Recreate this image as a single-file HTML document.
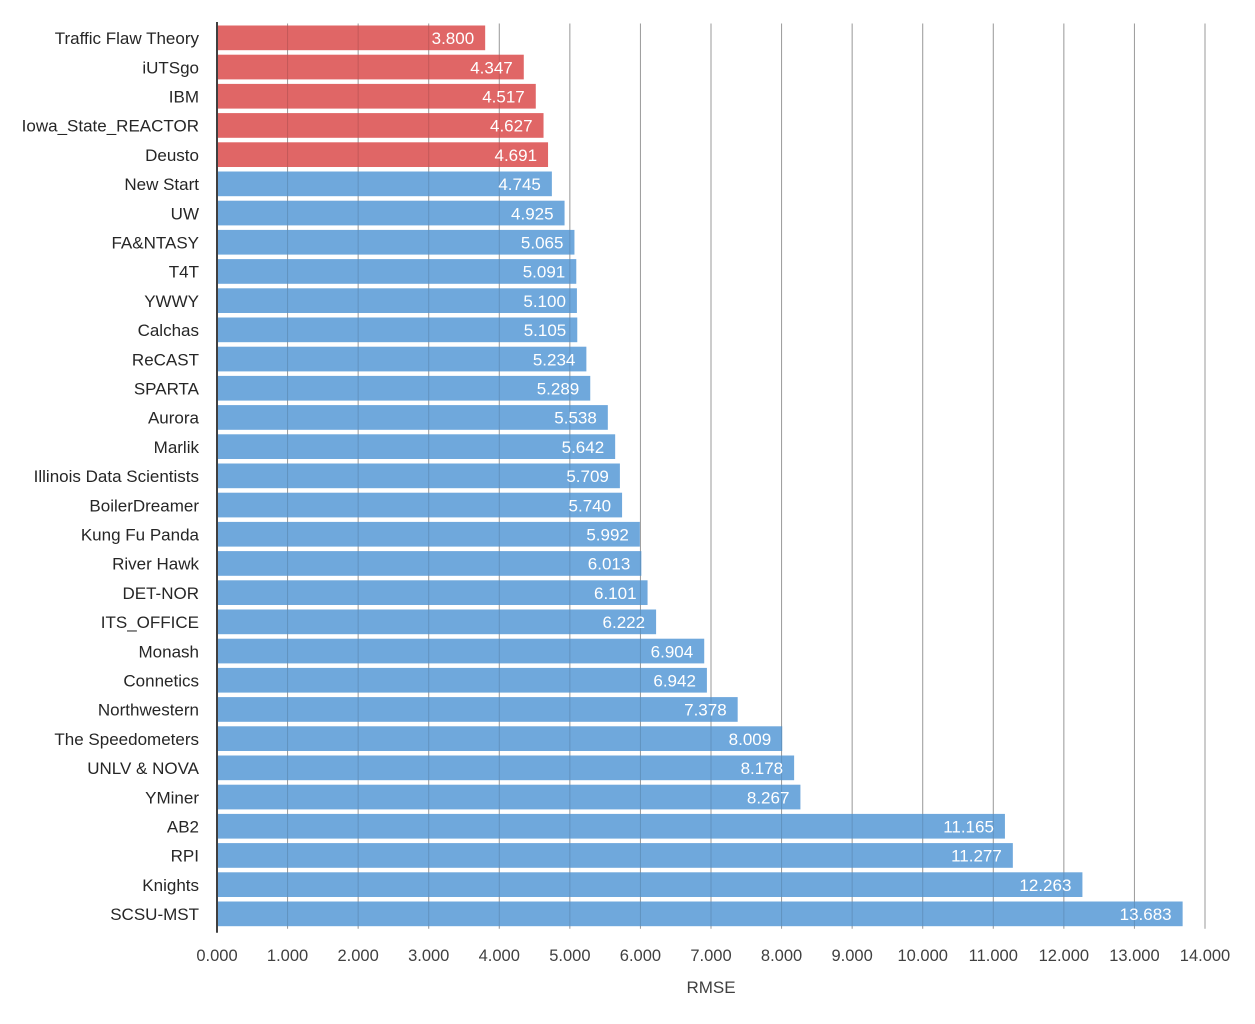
<!DOCTYPE html>
<html><head><meta charset="utf-8"><style>
body{margin:0;background:#fff;}
svg{display:block;font-family:"Liberation Sans",sans-serif;}
</style></head><body>
<svg id="chart" width="1255" height="1024"></svg>
<script>
const categories=["Traffic Flaw Theory","iUTSgo","IBM","Iowa_State_REACTOR","Deusto","New Start","UW","FA&NTASY","T4T","YWWY","Calchas","ReCAST","SPARTA","Aurora","Marlik","Illinois Data Scientists","BoilerDreamer","Kung Fu Panda","River Hawk","DET-NOR","ITS_OFFICE","Monash","Connetics","Northwestern","The Speedometers","UNLV & NOVA","YMiner","AB2","RPI","Knights","SCSU-MST"];
const values=[3.800,4.347,4.517,4.627,4.691,4.745,4.925,5.065,5.091,5.100,5.105,5.234,5.289,5.538,5.642,5.709,5.740,5.992,6.013,6.101,6.222,6.904,6.942,7.378,8.009,8.178,8.267,11.165,11.277,12.263,13.683];
const highlighted=[true,true,true,true,true];
const xTicks=[0,1,2,3,4,5,6,7,8,9,10,11,12,13,14];

const NS="http://www.w3.org/2000/svg";
const svg=document.getElementById('chart');
const x0=217,x1=1205,plotTop=23.5,band=29.2;
const xs=v=>x0+(v-xTicks[0])/(xTicks[xTicks.length-1]-xTicks[0])*(x1-x0);
const ys=i=>plotTop+i*band;
function mk(t,a,p){const e=document.createElementNS(NS,t);for(const k in a)e.setAttribute(k,a[k]);(p||svg).appendChild(e);return e;}

xTicks.forEach((t,i)=>{
  if(i>0){const g=mk('line',{x1:xs(t),x2:xs(t),y1:plotTop,y2:plotTop+categories.length*band,stroke:'#b0b0b0','stroke-width':1});
  
  }
  const l=mk('text',{x:xs(t),y:961,'text-anchor':'middle','font-size':16.5,fill:'#404040'});
  l.textContent=t.toFixed(3);
  
  
});
categories.forEach((c,i)=>{
  const y=ys(i);
  const b=mk('rect',{x:x0,y:y+2,width:xs(values[i])-x0,height:band-4.5,fill:highlighted[i]?'#e06666':'#6fa8dc'});
  
  
  const l=mk('text',{x:199,y:y+band/2+6,'text-anchor':'end','font-size':17,fill:'#262626'});
  l.textContent=c;
  
  
});
xTicks.forEach((t,i)=>{
  if(i>0){const g=mk('line',{x1:xs(t),x2:xs(t),y1:plotTop,y2:plotTop+categories.length*band,stroke:'rgba(0,0,0,0.13)','stroke-width':1});
  
  }
});
categories.forEach((c,i)=>{
  const y=ys(i);
  const v=mk('text',{x:xs(values[i])-11,y:y+band/2+6,'text-anchor':'end','font-size':17,fill:'#fff'});
  v.textContent=values[i].toFixed(3);
  
  
});
const ax=mk('line',{x1:x0,x2:x0,y1:22,y2:plotTop+categories.length*band+4,stroke:'#404040','stroke-width':2});


const tt=mk('text',{x:711,y:993,'text-anchor':'middle','font-size':17,fill:'#404040'});
tt.textContent='RMSE';


</script>
</body></html>
